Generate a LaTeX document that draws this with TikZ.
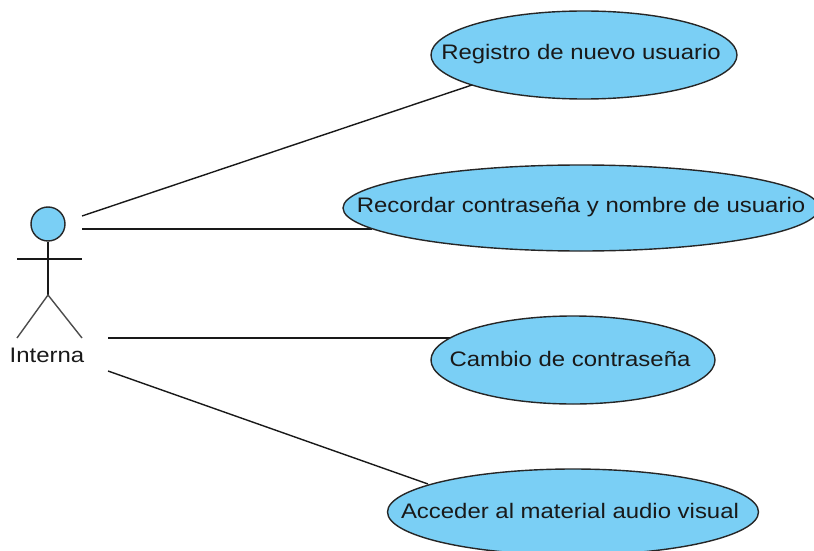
\documentclass[tikz,border=0pt]{standalone}
\usepackage{fontspec}
\setmainfont[FakeStretch=1.14]{Liberation Sans}
\usetikzlibrary{shapes.geometric}
\definecolor{uc}{HTML}{7ACFF5}
\tikzset{
 ucase/.style={draw=black!85,fill=uc,line width=1.4pt,ellipse,inner sep=0pt,minimum width=#1},
 lbl/.style={font=\fontsize{21}{24}\selectfont,text=black!90,inner sep=0pt},
 conn/.style={draw=black!90,line width=1.4pt}
}
\begin{document}
\begin{tikzpicture}[x=1pt,y=-1pt]
\useasboundingbox (0,0) rectangle (814,551);
\coordinate (a1) at (82,216);
\coordinate (a2) at (82,229);
\coordinate (a3) at (108,338);
\coordinate (a4) at (108,371);
\coordinate (e1) at (472,85);
\coordinate (e2) at (372,229);
\coordinate (e3) at (450,338);
\coordinate (e4) at (428,484);
\draw[conn] (a1) -- (e1);
\draw[conn] (a2) -- (e2);
\draw[conn] (a3) -- (e3);
\draw[conn] (a4) -- (e4);
\node[ucase=306pt,minimum height=88pt] (a) at (584,55) {};
\node[lbl] (ta) at (581,54) {Registro de nuevo usuario};
\node[ucase=476pt,minimum height=86pt] (b) at (581,208) {};
\node[lbl] (tb) at (581,207) {Recordar contraseña y nombre de usuario};
\node[ucase=284pt,minimum height=88pt] (c) at (573,360) {};
\node[lbl] (tc) at (570,359) {Cambio de contraseña};
\node[ucase=371pt,minimum height=86pt] (d) at (573,512) {};
\node[lbl] (td) at (570,511) {Acceder al material audio visual};
\node[circle,draw=black!85,fill=uc,line width=1.4pt,minimum size=34pt,inner sep=0pt] (h) at (48,224) {};
\coordinate (hip) at (48,295);
\coordinate (armL) at (17,259);
\coordinate (armR) at (82,259);
\coordinate (footL) at (17,338);
\coordinate (footR) at (82,338);
\draw[conn] (h.south) -- (hip);
\draw[conn] (armL) -- (armR);
\draw[conn,black!70] (footL) -- (hip) -- (footR);
\node[lbl] (actor) at (47,355) {Interna};
\end{tikzpicture}
\end{document}
